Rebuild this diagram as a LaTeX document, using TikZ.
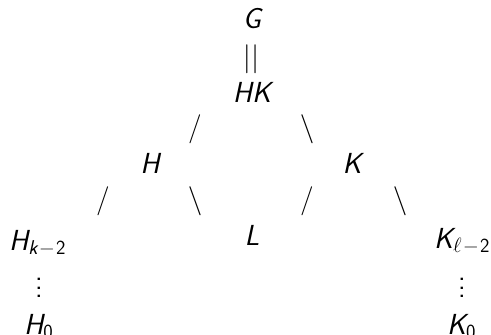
\documentclass[tikz,border=0pt]{standalone}
\newcommand\myvdots{\vbox{\baselineskip8.5pt\lineskiplimit0pt\hbox{.}\hbox{.}\hbox{.}}}
\newcommand\mysub[1]{\raisebox{-4pt}{\fontsize{20}{24}\selectfont #1}}
\begin{document}
\begin{tikzpicture}[x=1pt,y=-1pt,
  lbl/.style={inner sep=0pt, font=\fontsize{29}{35}\selectfont\sffamily\itshape},
  sym/.style={inner sep=0pt, font=\fontsize{29}{35}\selectfont\sffamily}]
\useasboundingbox (0,0) rectangle (491,335);
\node[lbl, anchor=base] (G) at (252,28) {G};
\node[sym] (eq) at (251,59) {||};
\node[lbl, anchor=base] (HK) at (252,102) {HK};
\node[lbl, anchor=base] (H) at (150,173) {H};
\node[lbl, anchor=base] (K) at (352,173) {K};
\node[lbl, anchor=base] (L) at (252,245) {L};
\node[lbl, anchor=base west] (Hk) at (9,250) {H\mysub{k\kern2pt\upshape −\kern2pt2}};
\node[lbl, anchor=base west] (H0) at (24,334) {H\mysub{\upshape 0}};
\node[lbl, anchor=base west] (Kl) at (434,248) {K\mysub{$\ell$\kern2pt\upshape −\kern2pt2}};
\node[lbl, anchor=base west] (K0) at (447,334) {K\mysub{\upshape 0}};
\node[sym] (s1) at (195,129) {/};
\node[sym] (s2) at (307,129) {\textbackslash};
\node[sym] (s3) at (195,201) {\textbackslash};
\node[sym] (s4) at (307,201) {/};
\node[sym] (s5) at (103,201) {/};
\node[sym] (s6) at (400,201) {\textbackslash};
\node[sym] (d1) at (39,288) {\myvdots};
\node[sym] (d2) at (462,288) {\myvdots};
\end{tikzpicture}
\end{document}
